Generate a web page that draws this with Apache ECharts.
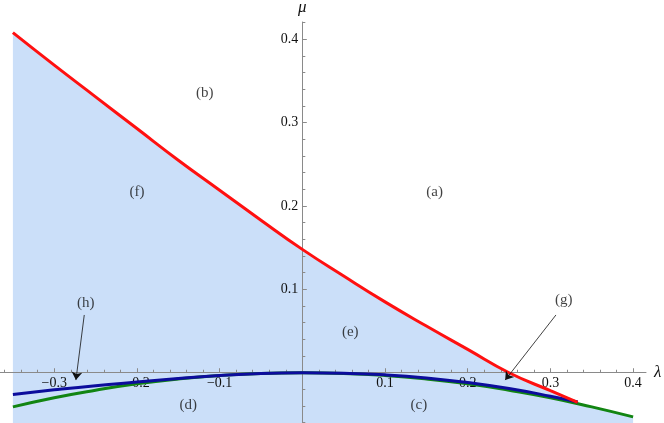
<!DOCTYPE html>
<html><head><meta charset="utf-8">
<script src="https://cdn.jsdelivr.net/npm/echarts@6/dist/echarts.min.js"></script>
<style>html,body{margin:0;padding:0;background:#fff}#c{width:664px;height:423px}</style>
</head><body><div id="c"></div>
<script>
// ---- data ----
const redLambda = [-0.35, -0.30, -0.25, -0.20, -0.15, -0.10, -0.05, 0.00, 0.05, 0.10, 0.15, 0.20, 0.25, 0.30, 0.333];
const redMu     = [0.408, 0.369, 0.331, 0.293, 0.255, 0.219, 0.183, 0.148, 0.116, 0.085, 0.056, 0.028, 0.000, -0.0215, -0.0355];

const blueLambda = [-0.35, -0.30, -0.25, -0.20, -0.15, -0.10, -0.05, 0.00, 0.05, 0.10, 0.15, 0.20, 0.25, 0.30, 0.333];
const blueMu     = [-0.026, -0.0205, -0.0155, -0.0112, -0.0070, -0.0033, -0.0008, 0.000, -0.0006, -0.0025, -0.0062, -0.0118, -0.0190, -0.0282, -0.0352];

const greenLambda = [-0.35, -0.30, -0.25, -0.20, -0.15, -0.10, -0.05, 0.00, 0.05, 0.10, 0.15, 0.20, 0.25, 0.30, 0.35, 0.40];
const greenMu     = [-0.041, -0.030, -0.021, -0.0133, -0.0075, -0.0033, -0.0008, 0.000, -0.0008, -0.0033, -0.0075, -0.0133, -0.021, -0.030, -0.041, -0.053];

const regionNames  = ['(a)', '(b)', '(c)', '(d)', '(e)', '(f)', '(g)', '(h)'];
const regionLambda = [0.160, -0.118, 0.141, -0.138, 0.058, -0.200, 0.316, -0.262];
const regionMu     = [0.217, 0.336, -0.039, -0.039, 0.049, 0.217, 0.087, 0.084];

const arrowFromLambda = [-0.2637, 0.3067];
const arrowFromMu     = [0.0693, 0.0693];
const arrowToLambda   = [-0.2738, 0.2453];
const arrowToMu       = [-0.0088, -0.0088];

const xMinorTicks = [-0.36,-0.34,-0.32,-0.30,-0.28,-0.26,-0.24,-0.22,-0.20,-0.18,-0.16,-0.14,-0.12,-0.10,-0.08,-0.06,-0.04,-0.02,0.02,0.04,0.06,0.08,0.10,0.12,0.14,0.16,0.18,0.20,0.22,0.24,0.26,0.28,0.30,0.32,0.34,0.36,0.38,0.40];
const xMajorTicks = [-0.3,-0.2,-0.1,0.1,0.2,0.3,0.4];
const yMinorTicks = [-0.06,-0.04,-0.02,0.02,0.04,0.06,0.08,0.10,0.12,0.14,0.16,0.18,0.20,0.22,0.24,0.26,0.28,0.30,0.32,0.34,0.36,0.38,0.40,0.42];
const yMajorTicks = [0.1,0.2,0.3,0.4];

// ---- build series data ----
const zip = (a, b) => a.map((v, i) => [v, b[i]]);
const redData = zip(redLambda, redMu);
const blueData = zip(blueLambda, blueMu);
const greenData = zip(greenLambda, greenMu);
const lastRed = redLambda[redLambda.length - 1];
const fillData = redData.concat(greenData.filter(p => p[0] > lastRed));
const labelData = regionNames.map((n, i) => [regionLambda[i], regionMu[i], n]);
const arrowData = arrowFromLambda.map((v, i) => ({coords: [[v, arrowFromMu[i]], [arrowToLambda[i], arrowToMu[i]]]}));

const SERIF = '"Liberation Serif", "DejaVu Serif", serif';
const AXC = '#8a8a8a';
const fmt = v => (v < 0 ? '\u2212' : '') + Math.abs(v).toFixed(1);

const XMIN = -0.3656, XMAX = 0.4156, YMIN = -0.0603, YMAX = 0.4208;
const W = 664, H = 423;
const G = {left: 0, right: 18, top: 22, bottom: 0};
const gridW = W - G.left - G.right, gridH = H - G.top - G.bottom;
// move the axes so they cross at the origin (axis offsets measured inward)
const xAxisOffset = -((0 - YMIN) / (YMAX - YMIN)) * gridH;
const yAxisOffset = -((0 - XMIN) / (XMAX - XMIN)) * gridW;

const chart = echarts.init(document.getElementById('c'), null, {renderer: 'canvas'});
chart.setOption({
  animation: false,
  backgroundColor: '#fff',
  grid: Object.assign({containLabel: false, outerBoundsMode: 'none'}, G),
  xAxis: [{
    type: 'value', min: XMIN, max: XMAX, position: 'bottom', offset: xAxisOffset, z: 1,
    name: 'λ', nameLocation: 'end', nameGap: 8,
    nameTextStyle: {fontFamily: SERIF, fontStyle: 'italic', fontSize: 17, color: '#111', verticalAlign: 'middle'},
    axisLine: {show: true, onZero: false, lineStyle: {color: AXC, width: 1}},
    axisTick: {show: true, inside: true, length: 3, customValues: xMinorTicks, lineStyle: {color: AXC}},
    axisLabel: {show: true, customValues: xMajorTicks, formatter: fmt, margin: 4,
      fontFamily: SERIF, fontSize: 14, color: '#111'},
    splitLine: {show: false}
  }, {
    type: 'value', min: XMIN, max: XMAX, position: 'bottom', offset: xAxisOffset, z: 1,
    axisLine: {show: false, onZero: false},
    axisTick: {show: true, inside: true, length: 4.5, customValues: xMajorTicks, lineStyle: {color: AXC}},
    axisLabel: {show: false},
    splitLine: {show: false}
  }],
  yAxis: [{
    type: 'value', min: YMIN, max: YMAX, position: 'left', offset: yAxisOffset, z: 1,
    name: 'μ', nameLocation: 'end', nameGap: 6,
    nameTextStyle: {fontFamily: SERIF, fontStyle: 'italic', fontSize: 17, color: '#111'},
    axisLine: {show: true, onZero: false, lineStyle: {color: AXC, width: 1}},
    axisTick: {show: true, inside: true, length: 3, customValues: yMinorTicks, lineStyle: {color: AXC}},
    axisLabel: {show: true, customValues: yMajorTicks, formatter: fmt, margin: 4,
      fontFamily: SERIF, fontSize: 14, color: '#111'},
    splitLine: {show: false}
  }, {
    type: 'value', min: YMIN, max: YMAX, position: 'left', offset: yAxisOffset, z: 1,
    axisLine: {show: false, onZero: false},
    axisTick: {show: true, inside: true, length: 4.5, customValues: yMajorTicks, lineStyle: {color: AXC}},
    axisLabel: {show: false},
    splitLine: {show: false}
  }],
  series: [
    {type: 'line', data: fillData, z: 0, symbol: 'none', smooth: false,
      lineStyle: {width: 0, opacity: 0},
      areaStyle: {color: '#cbdff9', opacity: 1, origin: 'start'}},
    {type: 'line', data: greenData, z: 3, symbol: 'none', smooth: true,
      lineStyle: {color: '#128512', width: 3}},
    {type: 'line', data: blueData, z: 4, symbol: 'none', smooth: true,
      lineStyle: {color: '#0c0c9c', width: 3}},
    {type: 'line', data: redData, z: 5, symbol: 'none', smooth: true,
      lineStyle: {color: '#ff1010', width: 3}},
    {type: 'lines', coordinateSystem: 'cartesian2d', z: 6, data: arrowData,
      symbol: ['none', 'arrow'], symbolSize: 8,
      lineStyle: {color: '#111', width: 0.8, opacity: 1}},
    {type: 'scatter', data: labelData, z: 7, symbolSize: 0,
      label: {show: true, position: 'inside', formatter: p => p.data[2],
        fontFamily: SERIF, fontSize: 15, color: '#111'}}
  ]
});
</script>
</body></html>
